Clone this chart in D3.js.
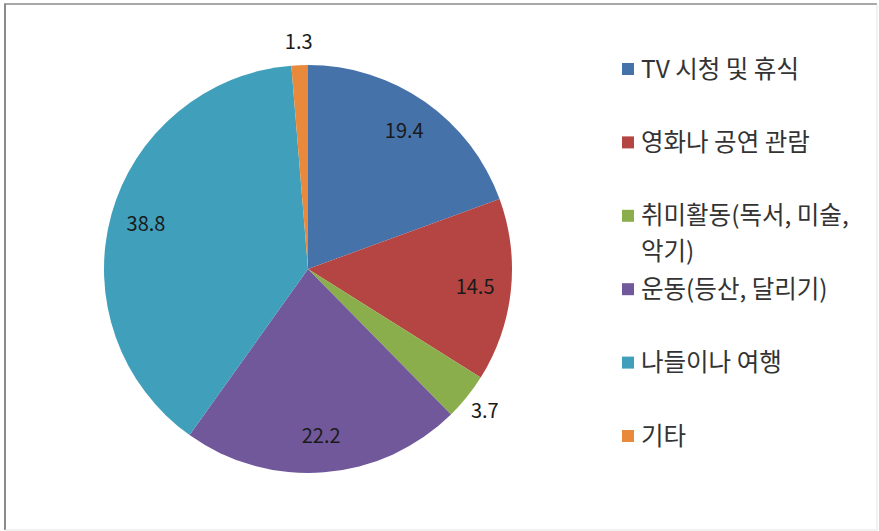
<!DOCTYPE html>
<html>
<head>
<meta charset="utf-8">
<script src="https://cdn.jsdelivr.net/npm/d3@7"></script>
<style>
  html, body { margin: 0; padding: 0; background: #fff; }
  svg { display: block; }
  text { font-family: "Noto Sans CJK KR", "Noto Sans", sans-serif; }
</style>
</head>
<body>
<svg id="chart" width="879" height="531"></svg>
<script>
// Leisure activity shares (%)
const categories = ["TV 시청 및 휴식", "영화나 공연 관람", "취미활동(독서, 미술, 악기)", "운동(등산, 달리기)", "나들이나 여행", "기타"];
const values = [19.4, 14.5, 3.7, 22.2, 38.8, 1.3];
const colors = ["#4672AA", "#B54542", "#8AAE4C", "#71589A", "#409FBA", "#E8893B"];
// legend lines (long names wrap onto a second line)
const legendLines = [["TV 시청 및 휴식"], ["영화나 공연 관람"], ["취미활동(독서, 미술,", "악기)"], ["운동(등산, 달리기)"], ["나들이나 여행"], ["기타"]];

const svg = d3.select("#chart");

// chart frame
svg.append("line").attr("x1", 4).attr("y1", 4).attr("x2", 877).attr("y2", 4).attr("stroke", "#8a8a8a").attr("stroke-width", 1.5);
svg.append("line").attr("x1", 5).attr("y1", 4).attr("x2", 5).attr("y2", 530).attr("stroke", "#8a8a8a").attr("stroke-width", 2);
svg.append("line").attr("x1", 877).attr("y1", 4).attr("x2", 877).attr("y2", 530).attr("stroke", "#e4e4e4").attr("stroke-width", 1);
svg.append("line").attr("x1", 5).attr("y1", 530).attr("x2", 877).attr("y2", 530).attr("stroke", "#e4e4e4").attr("stroke-width", 1);

const cx = 308, cy = 269, R = 204;
const data = categories.map((c, i) => ({ name: c, value: values[i], color: colors[i] }));

const pie = d3.pie().value(d => d.value).sort(null);
const arcs = pie(data);
const arc = d3.arc().innerRadius(0).outerRadius(R);
const inLabel = d3.arc().innerRadius(168).outerRadius(168);
const outLabel = d3.arc().innerRadius(227).outerRadius(227);

const g = svg.append("g").attr("transform", `translate(${cx},${cy})`);
g.selectAll("path.slice").data(arcs).join("path")
  .attr("class", "slice")
  .attr("d", arc)
  .attr("fill", d => d.data.color);

// value labels: small slices get their label outside the pie
g.selectAll("text.val").data(arcs).join("text")
  .attr("class", "val")
  .attr("transform", d => `translate(${(d.data.value < 5 ? outLabel : inLabel).centroid(d)})`)
  .attr("text-anchor", "middle")
  .attr("dy", "0.35em")
  .attr("font-size", 20)
  .attr("fill", "#1a1a1a")
  .text(d => d.data.value.toFixed(1));

// legend
const lg = svg.append("g");
legendLines.forEach((lines, i) => {
  const y = 69 + i * 73.4;
  lg.append("rect").attr("x", 622).attr("y", y - 6).attr("width", 12).attr("height", 12).attr("fill", colors[i]);
  lines.forEach((t, j) => {
    lg.append("text").attr("x", 641).attr("y", y + j * 36).attr("dy", "0.35em")
      .attr("font-size", 24.5).attr("fill", "#333").text(t);
  });
});
</script>
</body>
</html>
